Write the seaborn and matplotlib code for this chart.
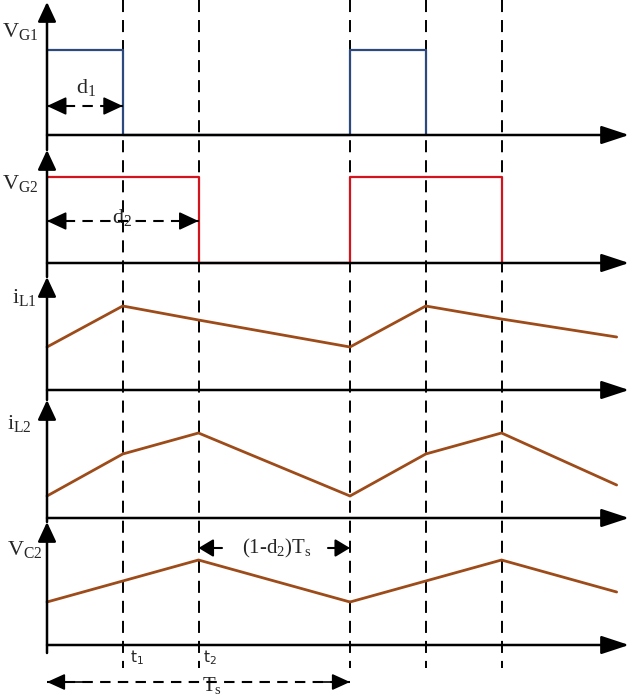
import matplotlib
matplotlib.use("Agg")
import matplotlib.pyplot as plt
import numpy as np
import pandas as pd
import seaborn as sns

# ---------------- data ----------------
d1 = 0.25          # duty ratio of switch 1 (fraction of Ts)
d2 = 0.50          # duty ratio of switch 2
t_end = 1.88       # last time point drawn (in Ts)
t_points = [0, d1, d2, 1, 1 + d1, 1 + d2, t_end]

vg1_t = [0, d1, d1, 1, 1, 1 + d1, 1 + d1]
vg1_v = [1, 1, 0, 0, 1, 1, 0]
vg2_t = [0, d2, d2, 1, 1, 1 + d2, 1 + d2]
vg2_v = [1, 1, 0, 0, 1, 1, 0]
il1_v = [0.43, 0.84, 0.70, 0.43, 0.84, 0.71, 0.53]
il2_v = [0.22, 0.64, 0.85, 0.22, 0.64, 0.85, 0.33]
vc2_v = [0.43, 0.64, 0.85, 0.43, 0.64, 0.85, 0.53]

panel_labels = ["V$_{\\mathrm{G1}}$", "V$_{\\mathrm{G2}}$", "i$_{\\mathrm{L1}}$",
                "i$_{\\mathrm{L2}}$", "V$_{\\mathrm{C2}}$"]
dashed_times = [d1, d2, 1, 1 + d1, 1 + d2]

# ---------------- style ----------------
sns.set_theme(style="white")
plt.rcParams["font.family"] = ["Liberation Serif", "DejaVu Serif"]
plt.rcParams["mathtext.fontset"] = "custom"
plt.rcParams["mathtext.rm"] = "Liberation Serif"
plt.rcParams["mathtext.it"] = "Liberation Serif:italic"
plt.rcParams["mathtext.sf"] = "DejaVu Sans"

BLUE = "#2C4A7E"
RED = "#D4141C"
BROWN = "#9E4B1A"

# layout (pixel units of a 630x695 canvas; x in units of Ts)
X0, TSPX = 47.0, 303.0
def px(x):
    return (x - X0) / TSPX

fig = plt.figure(figsize=(6.3, 6.95), dpi=100)
ax = fig.add_axes([0, 0, 1, 1])
ax.set_xlim(px(0), px(630))
ax.set_ylim(695, 0)
ax.axis("off")

bases = [135, 263, 390, 518, 645]
tops = [2, 150, 277, 400, 522]
bottoms = [150, 277, 400, 522, 653]
scales = [85, 86, 100, 100, 100]
label_pos = [(2, 31), (2, 184), (12, 297), (7, 424), (7, 549)]

series = [
    (vg1_t, vg1_v, BLUE, 1.6),
    (vg2_t, vg2_v, RED, 1.6),
    (t_points, il1_v, BROWN, 2.0),
    (t_points, il2_v, BROWN, 2.0),
    (t_points, vc2_v, BROWN, 2.0),
]

for i, (tt, vv, col, lw) in enumerate(series):
    df = pd.DataFrame({"t": tt, "y": [bases[i] - v * scales[i] for v in vv]})
    sns.lineplot(data=df, x="t", y="y", ax=ax, color=col, lw=lw,
                 sort=False, estimator=None, zorder=3)

# dashed vertical time markers
for t in dashed_times:
    ax.plot([t, t], [0, 668], color="black", lw=1.4,
            linestyle=(0, (6.2, 4.1)), zorder=2)

def arrow(x0, y0, x1, y1, hl=0.6, hw=0.25, lw=1.8, ms=20):
    ax.annotate("", xy=(x1, y1), xytext=(x0, y0),
                arrowprops=dict(arrowstyle=f"-|>,head_length={hl},head_width={hw}",
                                color="black", lw=lw, mutation_scale=ms,
                                shrinkA=0, shrinkB=0), zorder=5)

# axes with arrows
for i in range(5):
    arrow(0, bottoms[i], 0, tops[i], hl=0.6, hw=0.28)
    arrow(0, bases[i], px(629), bases[i], hl=0.85, hw=0.28)
    ax.text(px(label_pos[i][0]), label_pos[i][1], panel_labels[i], fontsize=16,
            ha="left", va="center")

# d1 and d2 dimension arrows
def dim_arrow(xa, xb, y, hl=0.6, hw=0.28, ms=20):
    ax.plot([xa, xb], [y, y], color="black", lw=1.5, linestyle=(0, (5, 3.5)), zorder=4)
    span = (xb - xa) * 0.12
    arrow(xa + span, y, xa, y, hl=hl, hw=hw, ms=ms, lw=1.2)
    arrow(xb - span, y, xb, y, hl=hl, hw=hw, ms=ms, lw=1.2)

dim_arrow(0, d1, 106)
ax.text(px(86), 87, "d$_1$", fontsize=16, ha="center", va="center")
dim_arrow(0, d2, 221)
ax.text(px(122), 217, "d$_2$", fontsize=16, ha="center", va="center")

# (1-d2)Ts annotation
arrow(px(222), 548, d2, 548, hl=0.5, hw=0.3, ms=18, lw=1.5)
arrow(px(328), 548, 1, 548, hl=0.5, hw=0.3, ms=18, lw=1.5)
ax.text(px(277), 548, "(1-d$_2$)T$_\\mathrm{s}$", fontsize=15, ha="center", va="center")

# Ts period arrow
dim_arrow(0, 1, 682, hl=0.55, hw=0.25)
ax.text(px(212), 685, "T$_\\mathrm{s}$", fontsize=15, ha="center", va="center",
        bbox=dict(facecolor="white", edgecolor="none", pad=0.5))

# t1, t2 labels
ax.text(px(137), 658, "$\\mathsf{t_1}$", fontsize=11, ha="center", va="center")
ax.text(px(210), 658, "$\\mathsf{t_2}$", fontsize=11, ha="center", va="center")

fig.savefig("out.png", dpi=100)
